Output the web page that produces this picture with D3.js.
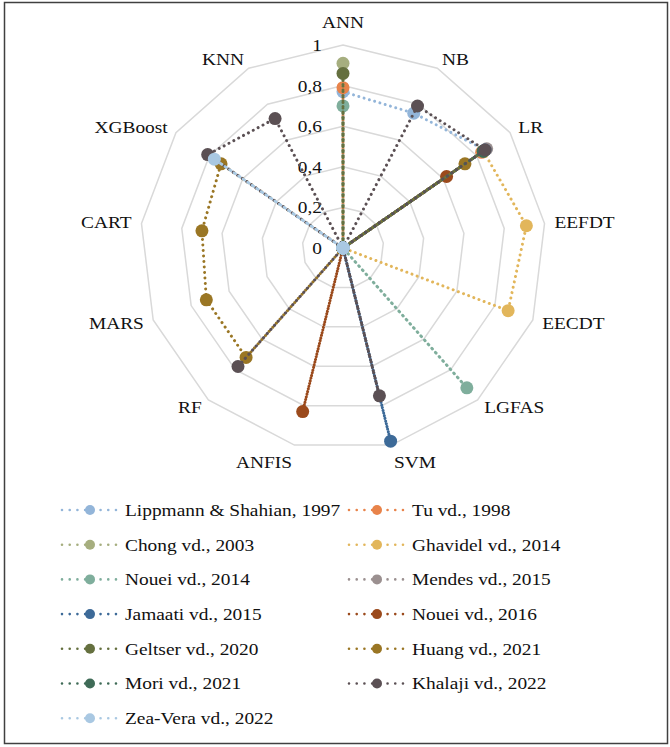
<!DOCTYPE html>
<html>
<head>
<meta charset="utf-8">
<script src="https://cdn.jsdelivr.net/npm/d3@7"></script>
<style>
  body { margin: 0; background: #fff; }
  text { font-family: "Liberation Serif", "Times New Roman", serif; fill: #111; }
</style>
</head>
<body>
<script>
// axes clockwise from top
const axes = ["ANN", "NB", "LR", "EEFDT", "EECDT", "LGFAS", "SVM", "ANFIS", "RF", "MARS", "CART", "XGBoost", "KNN"];
const ticks = [0, 0.2, 0.4, 0.6, 0.8, 1];
const tickLabels = ["0", "0,2", "0,4", "0,6", "0,8", "1"];

const seriesNames = [
  "Lippmann & Shahian, 1997", "Tu vd., 1998", "Chong vd., 2003", "Ghavidel vd., 2014",
  "Nouei vd., 2014", "Mendes vd., 2015", "Jamaati vd., 2015", "Nouei vd., 2016",
  "Geltser vd., 2020", "Huang vd., 2021", "Mori vd., 2021", "Khalaji vd., 2022",
  "Zea-Vera vd., 2022"
];
const colors = ["#93b5d9", "#e8834a", "#a6ae7f", "#e2b65b", "#7fae9c", "#9b9090", "#3d6a98",
  "#9b4a1c", "#65703f", "#9a7624", "#3f6b57", "#5b5054", "#a9c8e2"];

//                 ANN   NB    LR    EEFDT EECDT LGFAS SVM   ANFIS RF    MARS  CART  XGB   KNN
const lippmann = [0.77, 0.75, 0.85, 0,    0,    0,    0,    0,    0,    0,    0,    0,    0];
const tu       = [0.79, 0,    0.83, 0,    0,    0,    0,    0,    0,    0,    0,    0,    0];
const chong    = [0.91, 0,    0.84, 0,    0,    0,    0,    0,    0,    0,    0,    0,    0];
const ghavidel = [0,    0,    0.84, 0.91, 0.87, 0,    0,    0,    0,    0,    0,    0,    0];
const nouei14  = [0.70, 0,    0.84, 0,    0,    0.92, 0,    0,    0,    0,    0,    0,    0];
const mendes   = [0,    0,    0.86, 0,    0,    0,    0,    0,    0,    0,    0,    0,    0];
const jamaati  = [0,    0,    0.85, 0,    0,    0,    0.98, 0,    0,    0,    0,    0,    0];
const nouei16  = [0,    0,    0.62, 0,    0,    0,    0,    0.83, 0,    0,    0,    0,    0];
const geltser  = [0.86, 0,    0.84, 0,    0,    0,    0,    0,    0,    0,    0,    0,    0];
const huang    = [0,    0,    0.73, 0,    0,    0,    0,    0,    0.72, 0.72, 0.70, 0.73, 0];
const mori     = [0,    0,    0.84, 0,    0,    0,    0,    0,    0,    0,    0,    0,    0];
const khalaji  = [0,    0.79, 0.85, 0,    0,    0,    0.75, 0,    0.78, 0,    0,    0.81, 0.72];
const zeaVera  = [0,    0,    0,    0,    0,    0,    0,    0,    0,    0,    0,    0.77, 0];

const allValues = [lippmann, tu, chong, ghavidel, nouei14, mendes, jamaati, nouei16,
  geltser, huang, mori, khalaji, zeaVera];

const width = 670, height = 747;
const cx = 343, cy = 248, R = 203;
const stretch = 1.14; // the source text is a bit wide

const svg = d3.select("body").append("svg")
  .attr("width", width)
  .attr("height", height);

svg.append("rect")
  .attr("x", 4.5).attr("y", 2.5)
  .attr("width", 663).attr("height", 741)
  .attr("fill", "#fff")
  .attr("stroke", "#404040")
  .attr("stroke-width", 1.5);

let r = d3.scaleLinear().domain([0, 1]).range([0, R]);
let angle = d3.scaleLinear().domain([0, axes.length]).range([0, 2 * Math.PI]);

let g = svg.append("g").attr("transform", `translate(${cx},${cy})`);

// rings
let ring = d3.lineRadial()
  .angle((d, i) => angle(i))
  .radius(d => r(d))
  .curve(d3.curveLinearClosed);

g.append("g").selectAll("path")
  .data(ticks.slice(1))
  .enter()
  .append("path")
  .attr("d", t => ring(axes.map(() => t)))
  .attr("fill", "none")
  .attr("stroke", "#d9d9d9")
  .attr("stroke-width", 1.5);

// tick labels
g.append("g").selectAll("text")
  .data(ticks)
  .enter()
  .append("text")
  .attr("transform", t => `translate(-21,${-r(t)}) scale(${stretch},1)`)
  .attr("dy", "0.35em")
  .attr("text-anchor", "end")
  .attr("font-size", 17)
  .text((t, i) => tickLabels[i]);

// axis labels
g.append("g").selectAll("text")
  .data(axes)
  .enter()
  .append("text")
  .attr("transform", (d, i) => {
    let s = Math.sin(angle(i)), c = Math.cos(angle(i));
    let x = s * (R + 10);
    let y = -c * (R + 10);
    if (c > 0.99) y -= 13;
    if (c < -0.9) y += 7;
    return `translate(${x},${y}) scale(${stretch},1)`;
  })
  .attr("dy", "0.35em")
  .attr("text-anchor", (d, i) => {
    let s = Math.sin(angle(i));
    return s > 0.1 ? "start" : (s < -0.1 ? "end" : "middle");
  })
  .attr("font-size", 17)
  .text(d => d);

// series
let line = d3.lineRadial()
  .angle((d, i) => angle(i))
  .radius(d => r(d))
  .curve(d3.curveLinearClosed);

allValues.forEach((vals, k) => {
  let sg = g.append("g");
  sg.append("path")
    .attr("d", line(vals))
    .attr("fill", "none")
    .attr("stroke", colors[k])
    .attr("stroke-width", 3)
    .attr("stroke-linecap", "round")
    .attr("stroke-dasharray", "0.01 5.5");
  sg.selectAll("circle")
    .data(vals)
    .enter()
    .append("circle")
    .attr("cx", (d, i) => Math.sin(angle(i)) * r(d))
    .attr("cy", (d, i) => -Math.cos(angle(i)) * r(d))
    .attr("r", 6.5)
    .attr("fill", colors[k]);
});

// legend
let legend = svg.append("g");
seriesNames.forEach((name, k) => {
  let col = k % 2, row = Math.floor(k / 2);
  let x0 = col === 0 ? 62 : 349;
  let y0 = 510 + row * 34.7;
  let lg = legend.append("g").attr("transform", `translate(${x0},${y0})`);
  lg.append("line")
    .attr("x1", 0).attr("x2", 54)
    .attr("stroke", colors[k])
    .attr("stroke-width", 2.6)
    .attr("stroke-linecap", "round")
    .attr("stroke-dasharray", "0.01 7.7");
  lg.append("circle")
    .attr("cx", 28).attr("r", 5)
    .attr("fill", colors[k]);
  lg.append("text")
    .attr("transform", `translate(63,0) scale(${stretch},1)`)
    .attr("dy", "0.35em")
    .attr("font-size", 17)
    .text(name);
});
</script>
</body>
</html>
